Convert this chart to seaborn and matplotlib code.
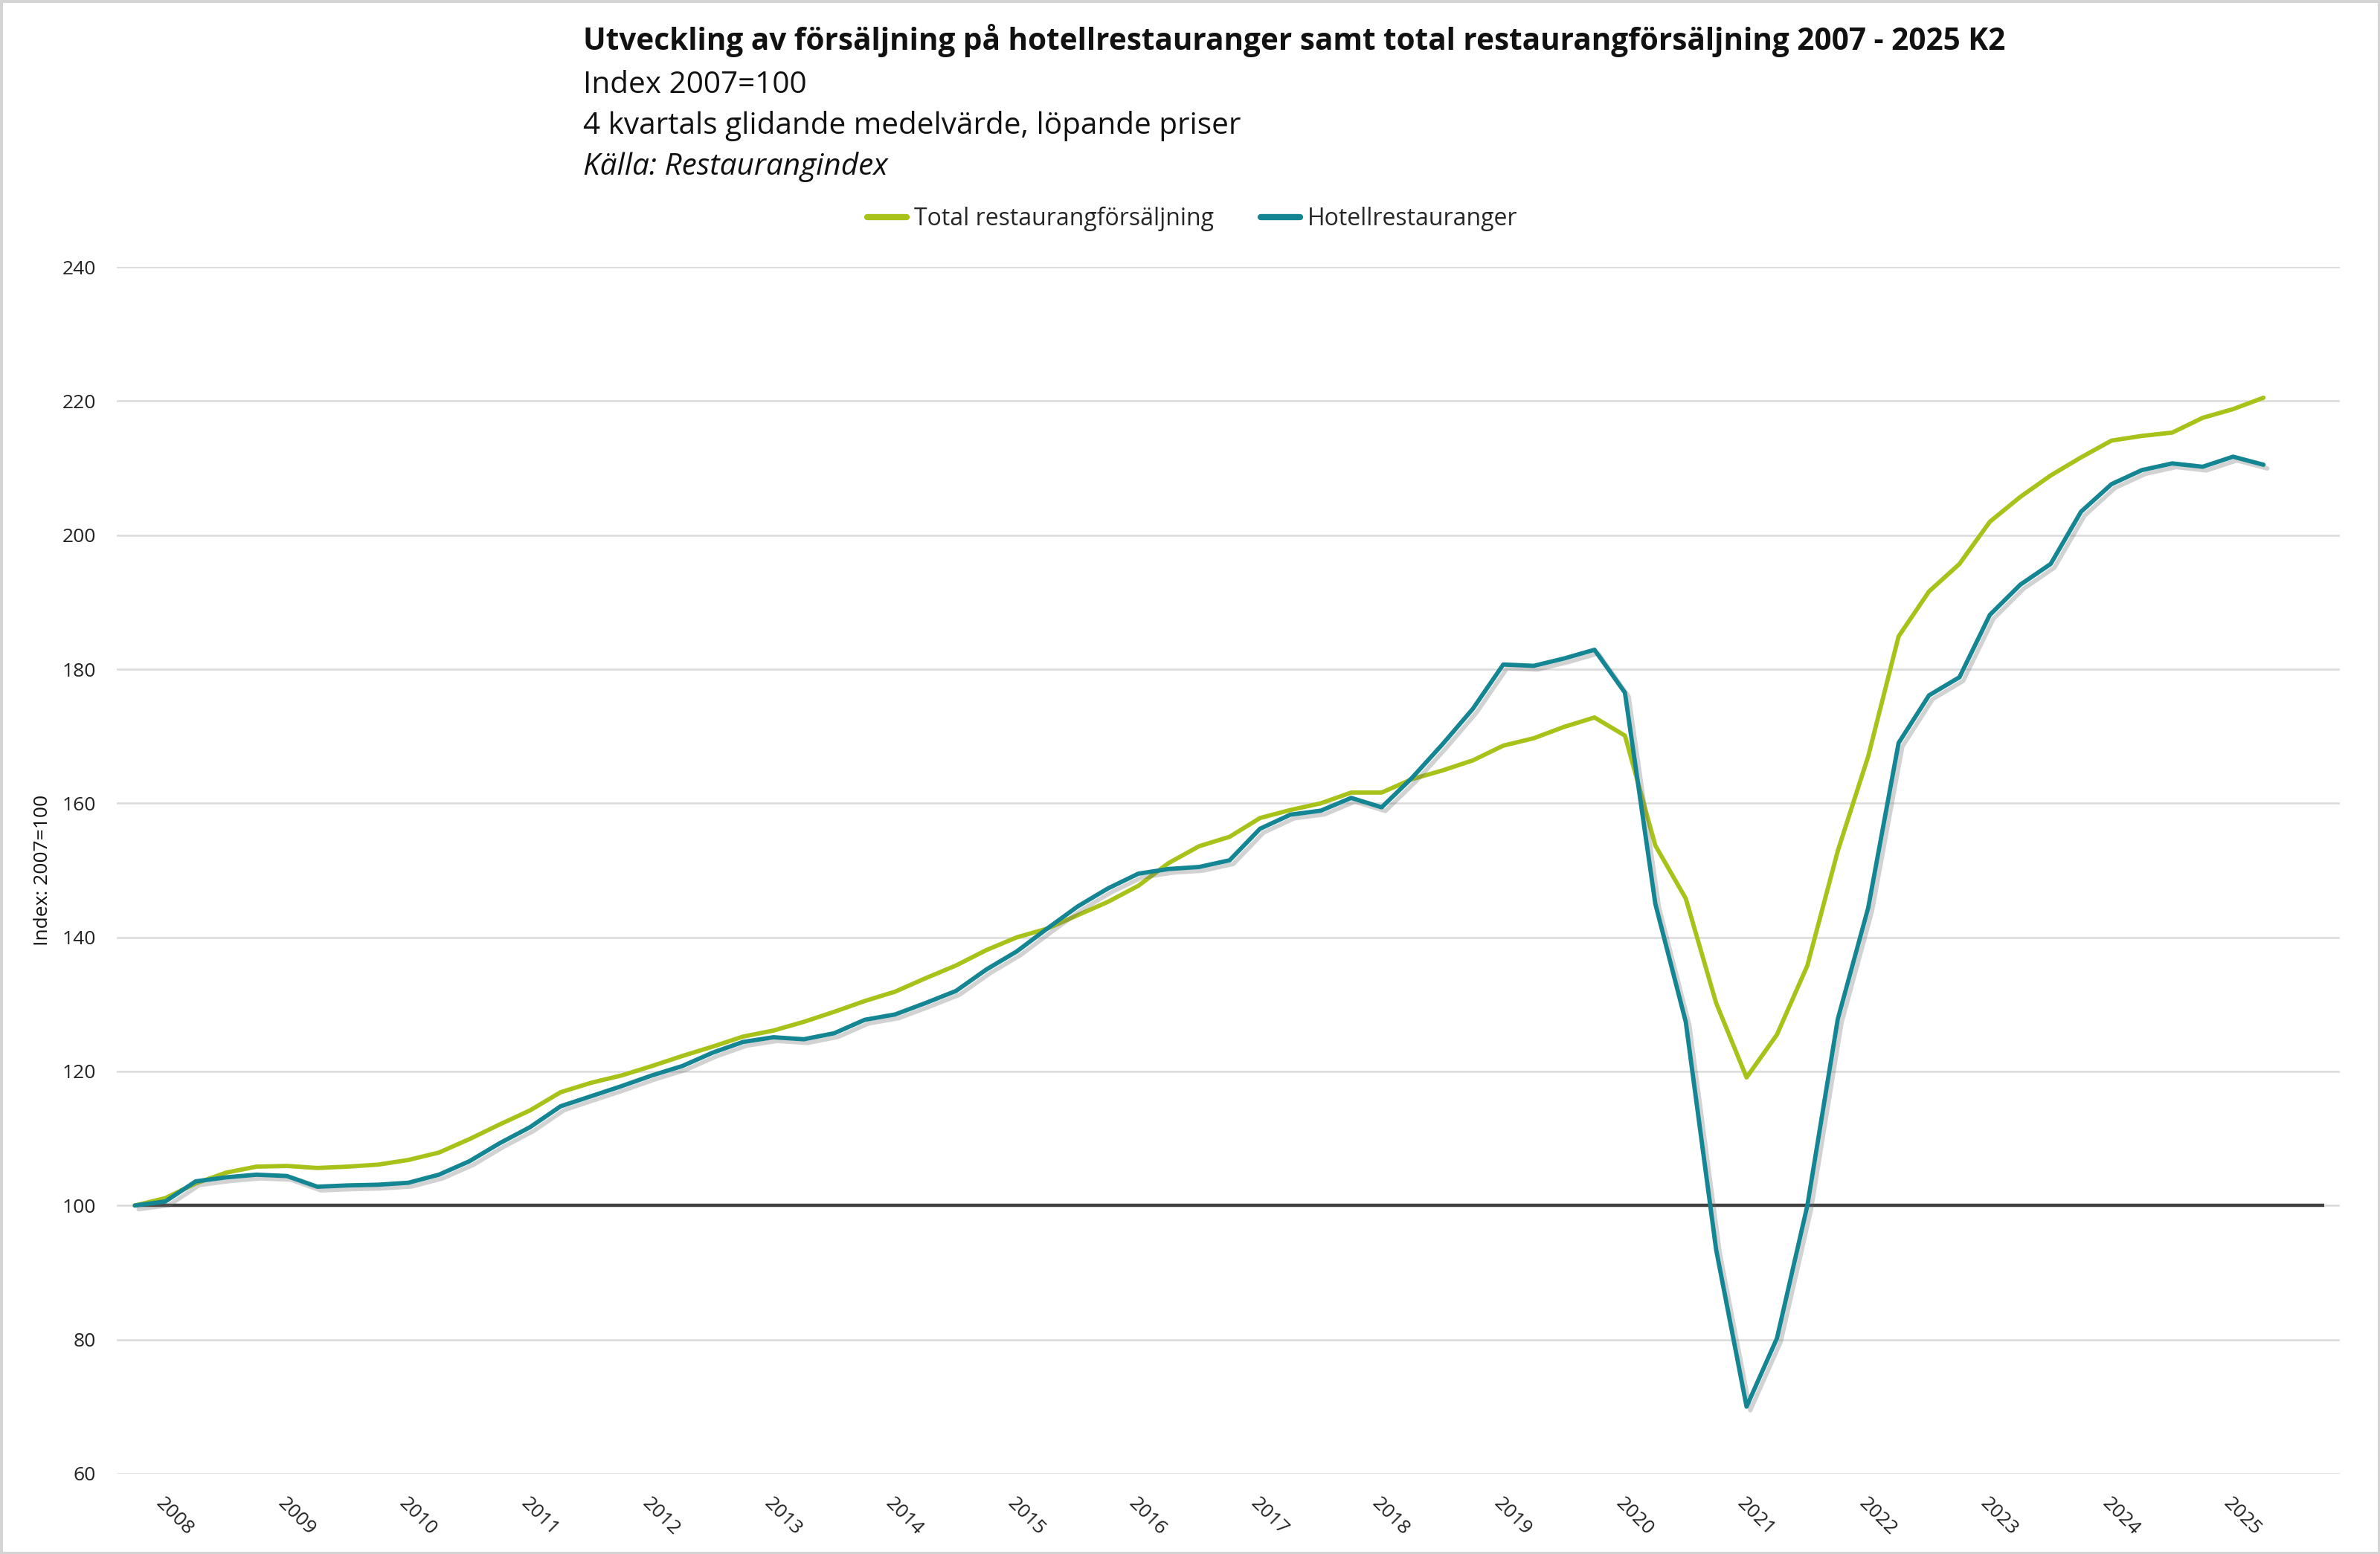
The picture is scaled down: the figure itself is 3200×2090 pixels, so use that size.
import matplotlib.pyplot as plt
import matplotlib.patheffects as pe
from matplotlib.patches import Rectangle
import numpy as np
import pandas as pd
import seaborn as sns

# quarters 2007 K4 .. 2025 K2 (4 kvartals glidande medelvärde, 2007=100)
quarters = ['2007K4'] + [f'{y}K{q}' for y in range(2008, 2025) for q in range(1, 5)] + ['2025K1', '2025K2']

total = [100.0, 101.1, 103.3, 104.9, 105.8, 105.9, 105.6, 105.8, 106.1, 106.8,
         107.9, 109.9, 112.1, 114.2, 116.9, 118.3, 119.4, 120.8, 122.3, 123.7,
         125.2, 126.1, 127.4, 128.9, 130.5, 131.9, 133.9, 135.8, 138.1, 140.0,
         141.3, 143.3, 145.3, 147.7, 151.1, 153.6, 155.0, 157.8, 159.0, 160.0,
         161.6, 161.6, 163.6, 164.9, 166.4, 168.6, 169.7, 171.4, 172.8, 170.1,
         153.7, 145.8, 130.2, 119.1, 125.5, 135.8, 152.9, 167.0, 184.9, 191.6,
         195.7, 202.0, 205.7, 208.9, 211.6, 214.1, 214.8, 215.3, 217.5, 218.8,
         220.5]

hotell = [100.0, 100.6, 103.6, 104.2, 104.6, 104.4, 102.8, 103.0, 103.1, 103.4,
          104.6, 106.6, 109.3, 111.7, 114.8, 116.3, 117.8, 119.4, 120.8, 122.8,
          124.4, 125.1, 124.8, 125.7, 127.7, 128.5, 130.2, 132.0, 135.2, 137.9,
          141.3, 144.6, 147.3, 149.5, 150.2, 150.5, 151.5, 156.2, 158.3, 158.9,
          160.8, 159.4, 163.8, 168.8, 174.1, 180.7, 180.5, 181.6, 182.9, 176.5,
          145.0, 127.4, 93.4, 70.0, 80.2, 100.0, 127.8, 144.4, 169.0, 176.1,
          178.8, 188.1, 192.6, 195.7, 203.5, 207.6, 209.7, 210.7, 210.2, 211.7,
          210.5]

series_names = ['Total restaurangförsäljning', 'Hotellrestauranger']
colors = ['#a8c21a', '#148592']
y_ticks = [60, 80, 100, 120, 140, 160, 180, 200, 220, 240]

title = 'Utveckling av försäljning på hotellrestauranger samt total restaurangförsäljning 2007 - 2025 K2'
subtitles = ['Index 2007=100', '4 kvartals glidande medelvärde, löpande priser']
source = 'Källa: Restaurangindex'


def main():
    sns.set_theme(style='white')
    plt.rcParams['font.family'] = ['Open Sans', 'DejaVu Sans']

    pos = np.arange(len(quarters))
    df = pd.concat([
        pd.DataFrame({'pos': pos, 'value': total, 'serie': series_names[0]}),
        pd.DataFrame({'pos': pos, 'value': hotell, 'serie': series_names[1]}),
    ], ignore_index=True)

    fig = plt.figure(figsize=(16, 10.45), dpi=200)
    ax = fig.add_axes([0.049, 0.0517, 0.934, 0.7765])

    ax.hlines(100, 0, len(quarters) + 1, color='#404040', linewidth=1.6, zorder=2)
    sns.lineplot(data=df, x='pos', y='value', hue='serie', hue_order=series_names,
                 palette=colors, linewidth=2.1, ax=ax, zorder=3)
    shadow = [pe.SimpleLineShadow(offset=(1.8, -1.8), shadow_color='#6a6a6a', alpha=0.3), pe.Normal()]
    for line in ax.lines[1:]:
        line.set_path_effects(shadow)

    ax.set_xlim(-0.6, 72.5)
    ax.set_ylim(60, 240)
    ax.set_yticks(y_ticks)
    ax.grid(axis='y', color='#dadada', linewidth=0.9)
    ax.grid(axis='x', visible=False)
    for s in ax.spines.values():
        s.set_visible(False)

    tick_pos = [i for i, q in enumerate(quarters) if q.endswith('K1')]
    tick_lab = [quarters[i][:4] for i in tick_pos]
    ax.set_xticks(tick_pos)
    ax.set_xticklabels(tick_lab, rotation=-45, ha='left', va='top', rotation_mode='anchor')
    ax.tick_params(axis='both', length=0, labelsize=9.5, colors='#222222')
    ax.tick_params(axis='x', pad=10)
    ax.tick_params(axis='y', pad=10)
    ax.set_xlabel('')
    ax.set_ylabel('Index: 2007=100', fontsize=9.5, labelpad=5, color='#111111')

    handles, labels = ax.get_legend_handles_labels()
    leg = ax.legend(handles, labels, loc='center', bbox_to_anchor=(0.501, 0.859),
                    bbox_transform=fig.transFigure, ncol=2, frameon=False, fontsize=11.5,
                    handlelength=1.65, handletextpad=0.3, columnspacing=2.0)
    for h in leg.legend_handles:
        h.set_linewidth(3)
        h.set_path_effects([])

    fig.text(0.245, 0.968, title, fontsize=14.6, fontweight='bold', va='baseline', color='#111111')
    fig.text(0.245, 0.9404, subtitles[0], fontsize=14.6, va='baseline', color='#111111')
    fig.text(0.245, 0.914, subtitles[1], fontsize=14.6, va='baseline', color='#111111')
    fig.text(0.245, 0.8877, source, fontsize=14.6, style='italic', va='baseline', color='#111111')

    fig.patches.append(Rectangle((0, 0), 1, 1, transform=fig.transFigure, fill=False,
                                 edgecolor='#d4d4d4', linewidth=2.5))
    fig.savefig('out.png', dpi=200, facecolor='white')


if __name__ == '__main__':
    main()
